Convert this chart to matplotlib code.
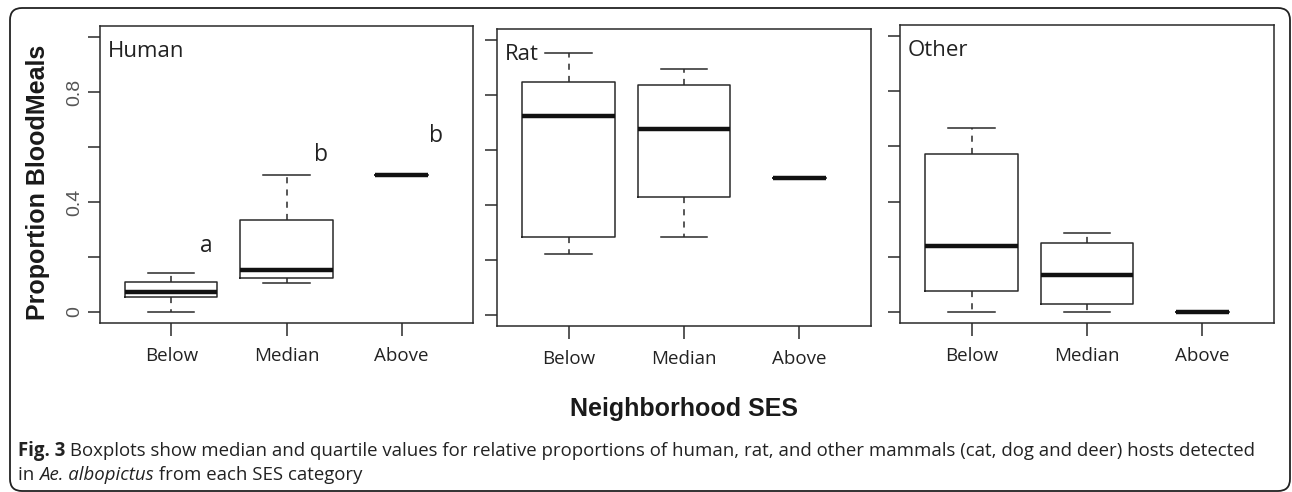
import matplotlib
matplotlib.use("Agg")
import matplotlib.pyplot as plt
from matplotlib.patches import FancyBboxPatch
from matplotlib.transforms import IdentityTransform

# valeurs : (bas moustache, Q1, mediane, Q3, haut moustache)
groupes = ["Below", "Median", "Above"]

human_bas = [0.0, 0.104, 0.5]
human_q1 = [0.053, 0.125, 0.5]
human_med = [0.074, 0.154, 0.5]
human_q3 = [0.11, 0.335, 0.5]
human_haut = [0.142, 0.5, 0.5]

rat_bas = [0.221, 0.285, 0.5]
rat_q1 = [0.285, 0.429, 0.5]
rat_med = [0.724, 0.675, 0.5]
rat_q3 = [0.847, 0.838, 0.5]
rat_haut = [0.951, 0.896, 0.5]

autre_bas = [0.0, 0.0, 0.0]
autre_q1 = [0.077, 0.029, 0.0]
autre_med = [0.24, 0.134, 0.0]
autre_q3 = [0.572, 0.249, 0.0]
autre_haut = [0.666, 0.285, 0.0]

lettres = ["a", "b", "b"]
lettres_y = [0.24, 0.57, 0.64]

W, H = 1292, 492
fig = plt.figure(figsize=(W / 100, H / 100), dpi=100)

coul = "#2a2a2a"
police_r = "Open Sans"


def stats(bas, q1, med, q3, haut):
    out = []
    for i in range(len(groupes)):
        out.append(dict(whislo=bas[i], q1=q1[i], med=med[i], q3=q3[i], whishi=haut[i], fliers=[]))
    return out


panneaux = [
    ("Human", stats(human_bas, human_q1, human_med, human_q3, human_haut), (100, 26, 473, 323)),
    ("Rat", stats(rat_bas, rat_q1, rat_med, rat_q3, rat_haut), (497, 29, 871, 326)),
    ("Other", stats(autre_bas, autre_q1, autre_med, autre_q3, autre_haut), (900, 25, 1274, 323)),
]

for k, (nom, st, (x0, y0, x1, y1)) in enumerate(panneaux):
    ax = fig.add_axes([x0 / W, 1 - y1 / H, (x1 - x0) / W, (y1 - y0) / H])
    ax.bxp(st, positions=[1, 2, 3], widths=[0.8, 0.8, 0.46], capwidths=[0.4, 0.4, 0.0],
           showfliers=False, patch_artist=False,
           boxprops=dict(color=coul, linewidth=1.1),
           whiskerprops=dict(color=coul, linewidth=1.1, linestyle=(0, (4, 4))),
           capprops=dict(color=coul, linewidth=1.1),
           medianprops=dict(color="#111111", linewidth=3.2, solid_capstyle="butt"))
    ax.set_xlim(0.38, 3.62)
    ax.set_ylim(-0.04, 1.04)
    ax.set_yticks([0, 0.2, 0.4, 0.6, 0.8, 1.0])
    if k == 0:
        ax.set_yticklabels(["0", "", "0.4", "", "0.8", ""], rotation=90, va="center",
                           fontsize=14, color="#555555", family="Liberation Sans")
        for i, (lt, ly) in enumerate(zip(lettres, lettres_y)):
            ax.text(i + 1.3, ly, lt, fontsize=16.5, family=police_r, color="#222222",
                    ha="center", va="center")
    else:
        ax.set_yticklabels([])
    ax.set_xticks([1, 2, 3])
    ax.set_xticklabels(groupes, fontsize=13.5, family=police_r, color="#222222")
    ax.tick_params(axis="both", direction="out", length=9, width=1.1, color=coul, pad=3)
    ax.tick_params(axis="x", pad=8)
    for s in ax.spines.values():
        s.set_color(coul)
        s.set_linewidth(1.1)
    ax.text(0.02, 0.95, nom, transform=ax.transAxes, fontsize=16, family=police_r,
            color="#222222", ha="left", va="top")

fig.text(38 / W, 1 - 182 / H, "Proportion BloodMeals", rotation=90, fontsize=18,
         fontweight="bold", family="Liberation Sans", ha="center", va="center", color="#1a1a1a")
fig.text(684 / W, 1 - 409 / H, "Neighborhood SES", fontsize=18, fontweight="bold",
         family="Liberation Sans", ha="center", va="center", color="#1a1a1a")

# legende de la figure, en morceaux
rend = fig.canvas.get_renderer()


def ligne(morceaux, x, y):
    for txt, poids, style in morceaux:
        t = fig.text(x / W, 1 - y / H, txt, fontsize=13.4, family=police_r, fontweight=poids,
                     style=style, ha="left", va="center", color="#222222")
        bb = t.get_window_extent(renderer=rend)
        x += bb.width


ligne([("Fig. 3", "bold", "normal"),
       (" Boxplots show median and quartile values for relative proportions of human, rat, and other mammals (cat, dog and deer) hosts detected",
        "normal", "normal")], 18, 451)
ligne([("in ", "normal", "normal"), ("Ae. albopictus", "normal", "italic"),
       (" from each SES category", "normal", "normal")], 18, 475)

cadre = FancyBboxPatch((10, 1), 1280, 483, boxstyle="round,pad=0,rounding_size=12",
                       transform=IdentityTransform(), fill=False, edgecolor="#222222",
                       linewidth=1.3)
fig.patches.append(cadre)

fig.savefig("out.png", dpi=100)
